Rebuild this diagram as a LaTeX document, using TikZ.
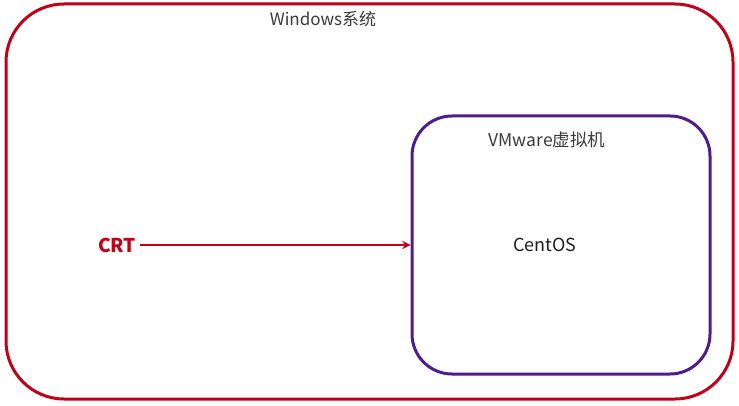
\documentclass[tikz,border=0pt]{standalone}
\usepackage{fontspec}
\setmainfont{Noto Sans CJK SC}
\usepackage{xcolor}
\definecolor{winred}{HTML}{C00018}
\definecolor{vmpurple}{HTML}{4E1C8C}
\definecolor{labelgray}{HTML}{3A3A3A}
\usetikzlibrary{positioning}

\begin{document}
\begin{tikzpicture}[x=1pt, y=-1pt, >=stealth, thick]
			\useasboundingbox (0,0) rectangle (739,406);
			\tikzset{
				sysbox/.style={draw, line width=3pt, inner sep=0pt},
				boxlabel/.style={text=labelgray, font=\fontsize{17}{20}\selectfont}
			}

			% Draw boxes
			\node[sysbox, draw=winred, rounded corners=58pt, minimum width=727pt, minimum height=395pt] (windows) at (369.5,201.5) {};
			\node[sysbox, draw=vmpurple, rounded corners=40pt, minimum width=298pt, minimum height=258pt] (vmware) at (561,245) {};

			% Box labels
			\node[boxlabel] (winlabel) at (323,19) {Windows系统};
			\node[boxlabel, font=\fontsize{17.5}{20}\selectfont] (vmlabel) at (547,140) {VMware虚拟机};
			\node[boxlabel, text=black!88, font=\fontsize{18}{21}\selectfont] (centos) at (545,245) {CentOS};

			% Client and connection
			\node[text=winred, font=\fontsize{19}{22}\selectfont\bfseries] (crt) at (117,245) {CRT};
			\draw[->, winred, line width=2.6pt] (crt) -- (crt -| vmware.west);

		\end{tikzpicture}
\end{document}
